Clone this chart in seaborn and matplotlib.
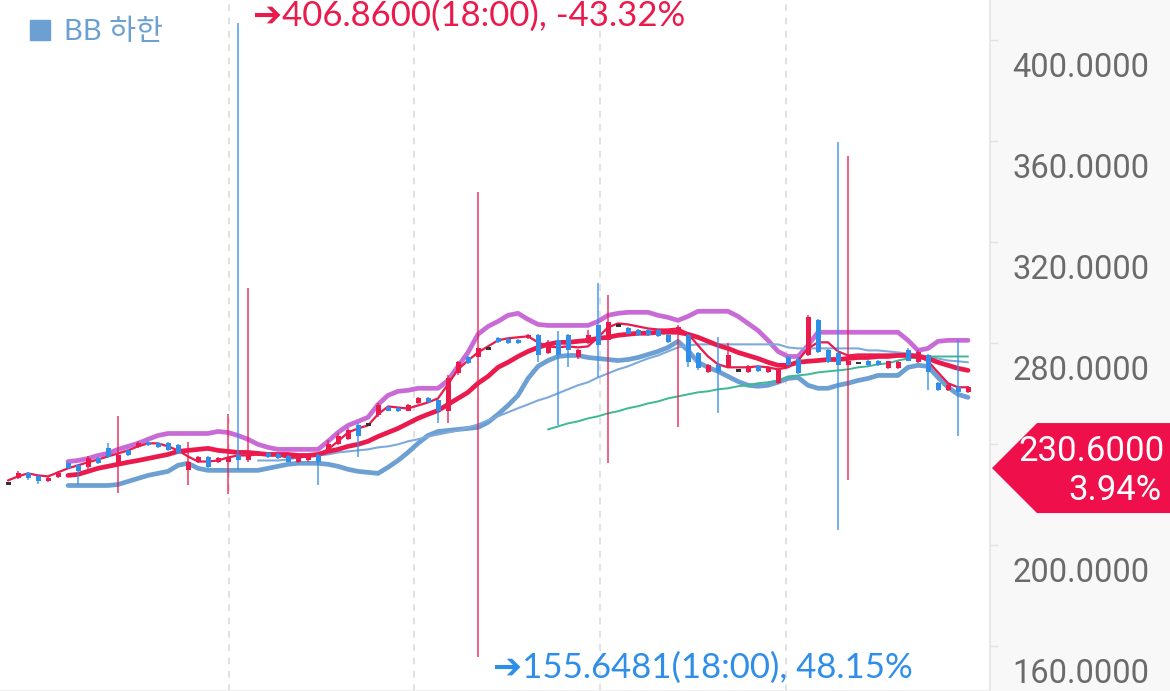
import numpy as np
import matplotlib
matplotlib.use("Agg")
import matplotlib.pyplot as plt
import matplotlib.transforms as mtransforms
from matplotlib.lines import Line2D
from matplotlib.patches import Polygon
import seaborn as sns

# ---- candles (one per step) ----
opens = [224.5, 226.5, 228.5, 227.3, 225.3, 226.9, 232.5, 231.7, 230.9, 234.4,
         238.4, 231.7, 237.6, 238.8, 240.8, 240.4, 240.4, 239.6, 229.7, 232.9,
         234.8, 232.9, 232.9, 235.6, 233.6, 235.6, 236.4, 236.0, 235.2, 232.9,
         233.6, 235.6, 236.8, 240.0, 242.0, 247.5, 247.9, 251.5, 254.6, 254.2,
         253.4, 256.2, 258.2, 257.4, 253.4, 268.1, 274.4, 274.4, 278.0, 282.0,
         281.6, 281.2, 282.0, 283.2, 276.0, 281.2, 283.2, 274.4, 280.0, 287.1,
         281.2, 287.1, 285.9, 285.1, 285.1, 285.1, 283.2, 283.9, 283.2, 276.0,
         268.5, 271.3, 270.5, 269.3, 268.5, 270.9, 268.5, 264.2, 274.4, 274.0,
         275.2, 289.1, 277.2, 276.0, 271.3, 272.1, 273.2, 273.2, 270.1, 270.1,
         277.2, 272.5, 275.2, 264.2, 261.4, 262.6, 260.8]
closes = [224.5, 228.5, 226.5, 225.3, 226.5, 228.5, 230.5, 229.3, 234.4, 232.5,
          234.8, 235.6, 235.6, 240.4, 239.6, 238.8, 237.6, 236.4, 232.9, 234.8,
          230.9, 234.4, 234.4, 233.6, 235.6, 236.8, 234.8, 234.4, 233.2, 234.4,
          235.2, 232.9, 240.0, 243.5, 245.5, 243.5, 247.9, 255.4, 253.4, 253.1,
          255.4, 258.2, 256.6, 253.4, 266.1, 272.5, 272.1, 278.0, 278.0, 280.4,
          280.0, 280.0, 283.2, 275.2, 280.4, 275.2, 277.2, 277.2, 283.2, 279.2,
          288.3, 287.1, 283.9, 283.2, 283.2, 282.8, 280.4, 286.3, 272.5, 270.1,
          271.3, 268.5, 275.2, 269.3, 270.9, 268.9, 270.5, 269.3, 271.3, 268.1,
          290.3, 276.4, 272.5, 271.3, 273.2, 272.1, 271.3, 271.3, 272.9, 272.5,
          273.2, 276.4, 268.5, 261.4, 263.4, 260.6, 262.6]
highs = [224.9, 229.3, 228.9, 227.7, 226.9, 229.3, 233.2, 232.1, 235.2, 234.8,
         240.4, 251.1, 238.0, 241.2, 241.2, 240.8, 240.8, 240.0, 240.8, 235.2,
         235.2, 234.8, 251.9, 406.86, 301.8, 237.2, 236.8, 236.4, 235.6, 234.8,
         235.6, 236.0, 241.6, 244.3, 246.3, 248.3, 248.3, 256.2, 255.0, 254.6,
         255.8, 258.6, 258.6, 257.8, 267.3, 273.2, 274.8, 339.8, 278.4, 282.4,
         282.0, 281.6, 283.6, 283.6, 281.2, 284.7, 283.6, 277.6, 285.1, 304.1,
         299.0, 287.5, 286.3, 285.5, 285.5, 285.5, 283.6, 287.1, 283.9, 276.4,
         271.7, 282.4, 280.0, 269.7, 271.3, 271.3, 270.9, 269.7, 274.8, 274.4,
         291.1, 289.5, 277.6, 359.6, 354.4, 272.5, 273.6, 273.6, 273.2, 272.9,
         278.0, 277.2, 275.6, 264.6, 263.8, 281.2, 263.0]
lows = [224.1, 226.1, 225.7, 224.1, 224.9, 226.5, 230.1, 223.7, 230.1, 232.1,
        234.4, 220.6, 235.2, 238.4, 239.2, 238.4, 237.2, 236.0, 223.7, 232.5,
        230.5, 232.5, 220.2, 229.7, 233.2, 235.2, 234.4, 234.0, 232.9, 232.5,
        233.2, 223.7, 236.4, 239.6, 241.6, 234.8, 247.5, 250.7, 253.1, 252.7,
        253.1, 255.8, 256.2, 248.3, 248.3, 267.3, 271.7, 155.6481, 277.6, 280.0,
        279.6, 279.6, 281.6, 272.5, 275.6, 247.5, 270.5, 274.0, 279.6, 266.5,
        232.8, 286.7, 283.6, 282.8, 282.8, 282.4, 280.0, 246.7, 270.5, 269.3,
        268.1, 252.6, 270.1, 268.9, 268.1, 268.5, 268.1, 263.8, 270.9, 267.7,
        274.8, 276.0, 272.1, 205.9, 225.7, 271.7, 270.9, 270.9, 269.7, 269.7,
        272.9, 272.1, 261.4, 261.0, 261.0, 243.5, 260.4]

# ---- indicator lines ----
ma_short = [225.7, 227.3, 228.5, 227.7, 227.3, 228.9, 230.5, 231.7, 232.9, 234.0,
            235.2, 236.4, 237.6, 239.2, 240.4, 240.4, 239.2, 237.6, 235.2, 233.2,
            233.2, 233.6, 234.8, 235.6, 235.6, 236.0, 236.4, 235.6, 234.8, 234.8,
            235.2, 236.0, 238.0, 241.2, 244.7, 246.3, 247.5, 251.9, 255.0, 254.6,
            254.2, 255.4, 256.6, 258.2, 263.8, 269.7, 273.2, 276.4, 278.8, 281.2,
            282.0, 282.4, 282.8, 280.4, 278.8, 278.4, 278.8, 278.4, 278.8, 282.4,
            286.3, 287.9, 287.5, 286.7, 285.9, 285.5, 285.5, 285.9, 283.9, 279.2,
            274.8, 271.7, 270.5, 270.5, 270.5, 270.9, 270.5, 269.7, 270.5, 273.2,
            278.0, 280.4, 280.4, 276.8, 275.2, 275.6, 275.6, 275.6, 275.6, 275.6,
            275.6, 275.2, 272.9, 268.5, 264.2, 262.6, 262.6]

bb_start = 6
bb_upper = [233.2, 233.6, 234.4, 235.6, 236.4, 238.0, 239.2, 240.4, 242.0, 243.5,
            244.3, 244.3, 244.3, 244.3, 244.3, 245.1, 244.7, 243.5, 242.0, 240.0,
            238.8, 238.0, 238.0, 238.0, 238.0, 238.0, 241.2, 244.7, 247.5, 249.1,
            250.7, 255.8, 259.4, 261.0, 261.4, 262.2, 262.2, 262.2, 265.3, 270.9,
            276.4, 283.6, 286.7, 288.7, 291.1, 291.9, 289.5, 287.5, 287.1, 287.1,
            287.1, 287.1, 287.1, 288.7, 291.1, 291.9, 292.3, 292.3, 292.3, 291.1,
            290.3, 289.1, 290.7, 292.7, 292.7, 292.7, 292.7, 290.7, 287.9, 285.1,
            281.2, 276.8, 274.8, 274.8, 279.2, 284.4, 284.4, 284.4, 284.4, 284.4,
            284.4, 284.4, 284.4, 284.4, 281.2, 277.2, 278.0, 280.8, 281.2, 281.2,
            281.2]
bb_middle = [227.7, 228.1, 229.3, 230.5, 231.3, 232.1, 232.9, 233.6, 234.4, 235.2,
             236.0, 237.2, 237.6, 238.0, 238.4, 237.6, 237.2, 236.8, 236.8, 236.4,
             236.0, 236.0, 236.0, 235.6, 235.6, 236.0, 237.2, 238.0, 239.2, 240.0,
             241.2, 243.1, 244.7, 246.3, 248.3, 250.3, 251.9, 253.4, 255.8, 258.2,
             260.6, 264.2, 266.9, 270.5, 272.5, 274.8, 276.8, 278.4, 279.6, 280.4,
             280.4, 280.8, 281.2, 282.0, 282.4, 283.2, 283.6, 284.0, 284.0, 284.4,
             284.4, 284.4, 283.6, 282.4, 280.8, 279.2, 278.0, 276.4, 275.2, 274.0,
             272.5, 271.3, 271.3, 272.5, 272.9, 273.2, 273.6, 273.6, 274.0, 274.4,
             274.4, 274.8, 274.8, 275.2, 275.2, 274.8, 274.0, 272.5, 271.3, 270.1,
             269.3]
bb_lower = [223.7, 223.7, 223.7, 223.7, 223.7, 224.1, 225.3, 226.5, 227.7, 228.5,
            229.3, 231.7, 232.5, 230.5, 229.7, 229.7, 229.7, 229.7, 229.7, 229.7,
            230.5, 231.3, 232.1, 232.5, 232.5, 232.5, 232.1, 231.3, 230.1, 229.3,
            228.9, 228.5, 230.9, 233.6, 236.8, 240.4, 243.5, 245.1, 245.5, 245.9,
            246.3, 246.7, 248.7, 251.9, 255.4, 259.4, 266.1, 270.9, 273.2, 274.8,
            275.2, 275.2, 274.4, 274.0, 273.6, 273.2, 273.6, 274.4, 275.6, 276.8,
            278.4, 280.8, 277.2, 272.5, 270.5, 268.9, 266.9, 264.9, 263.4, 263.0,
            263.4, 264.6, 266.1, 266.5, 263.4, 262.2, 262.2, 263.4, 264.2, 265.3,
            266.1, 267.3, 267.3, 267.3, 270.5, 271.3, 270.9, 266.5, 262.6, 259.8,
            258.6]

ma_mid_start = 25
ma_mid = [233.6, 233.6, 233.6, 234.0, 234.8, 235.2, 235.6, 236.0, 236.8, 237.2,
          237.6, 238.0, 238.8, 239.2, 240.0, 241.2, 242.0, 243.1, 243.9, 244.7,
          245.5, 246.7, 247.9, 249.5, 251.1, 252.7, 254.3, 255.8, 257.4, 258.6,
          260.2, 261.8, 263.4, 264.6, 266.5, 268.1, 269.7, 270.9, 272.5, 274.0,
          275.2, 276.8, 278.4, 279.2, 279.6, 279.6, 279.6, 279.6, 279.6, 279.6,
          279.6, 279.6, 279.6, 278.4, 278.0, 278.0, 278.0, 278.0, 278.0, 278.0,
          278.0, 277.2, 277.2, 276.8, 276.4, 276.0, 275.6, 274.8, 274.0, 273.2,
          272.9, 272.5]

ma_long_start = 54
ma_long = [245.9, 247.1, 248.3, 249.1, 250.3, 251.1, 252.3, 253.1, 254.3, 255.1,
           256.2, 257.0, 258.2, 259.0, 259.8, 260.6, 261.0, 261.8, 262.2, 263.0,
           263.4, 264.2, 264.6, 265.3, 266.9, 267.3, 267.7, 268.5, 268.9, 269.3,
           269.7, 270.5, 270.9, 271.7, 272.1, 273.2, 274.0, 274.4, 274.8, 274.8,
           274.8, 274.8, 274.8]

time_ticks = [22.1, 40.6, 59.2, 77.8]
price_ticks = [160, 200, 240, 280, 320, 360, 400]
last_price = 230.6
last_change = 3.94
extreme_time = "18:00"
legend_label = "BB 하한"

RED = "#ea1a4d"
BLUE = "#2f8eea"
PURPLE = "#c96bd6"
BB_BLUE = "#6c9fd2"
THIN_BLUE = "#7eaadb"
GREEN = "#3db893"
DARK = "#333333"

sns.set_theme(style="white")
plt.rcParams["font.family"] = ["Lato", "Noto Sans CJK KR", "DejaVu Sans"]

fig = plt.figure(figsize=(11.7, 6.91), dpi=100)
fig.patch.set_facecolor("#f8f8f8")
ax = fig.add_axes([0, 0, 990 / 1170, 1])
ax.set_facecolor("white")

# indicator lines
sns.lineplot(x=np.arange(bb_start, bb_start + len(bb_upper)), y=bb_upper,
             color=PURPLE, linewidth=3.4, ax=ax, zorder=2)
sns.lineplot(x=np.arange(bb_start, bb_start + len(bb_lower)), y=bb_lower,
             color=BB_BLUE, linewidth=3.4, ax=ax, zorder=2)
sns.lineplot(x=np.arange(ma_mid_start, ma_mid_start + len(ma_mid)), y=ma_mid,
             color=THIN_BLUE, linewidth=1.5, ax=ax, zorder=2)
sns.lineplot(x=np.arange(ma_long_start, ma_long_start + len(ma_long)), y=ma_long,
             color=GREEN, linewidth=1.4, ax=ax, zorder=2)
sns.lineplot(x=np.arange(bb_start, bb_start + len(bb_middle)), y=bb_middle,
             color=RED, linewidth=3.4, ax=ax, zorder=3)
sns.lineplot(x=np.arange(len(ma_short)), y=ma_short,
             color=RED, linewidth=1.6, ax=ax, zorder=3)

# candles
o = np.array(opens)
c = np.array(closes)
idx = np.arange(len(o))
cols = np.where(c > o, RED, np.where(c < o, BLUE, DARK))
ax.vlines(idx, lows, highs, colors=cols, linewidth=1.2, alpha=0.8, zorder=4)
flat = (c == o)
body = np.where(flat, 0.9, np.abs(c - o))
ax.bar(idx, body, bottom=np.minimum(o, c) - flat * 0.45, width=0.5,
       color=cols, linewidth=0, zorder=5)

ax.set_xlim(-0.8, 98.2)
ax.set_ylim(142.3, 416.0)
ax.set_xticks(time_ticks)
ax.tick_params(axis="x", length=0, labelbottom=False)
ax.grid(axis="x", color="#dcdcdc", linestyle=(0, (4, 4)), linewidth=1.2)
ax.grid(axis="y", visible=False)
ax.set_xlabel("")
ax.set_ylabel("")

# right price axis; the label under the current-price tag is covered in the original
ax.yaxis.tick_right()
ax.set_yticks(price_ticks)
ax.set_yticklabels(["" if abs(v - last_price) < 20 else f"{v:.4f}" for v in price_ticks])
ax.tick_params(axis="y", direction="out", length=6, width=1, color="#e2e2e2",
               pad=10, labelsize=23.5, labelcolor="#6b6b6b")
shift = mtransforms.ScaledTranslation(0, -0.24, fig.dpi_scale_trans)
for lab in ax.get_yticklabels():
    lab.set_transform(lab.get_transform() + shift)
    lab.set_fontfamily(["Roboto", "DejaVu Sans"])

for side in ["top", "left"]:
    ax.spines[side].set_visible(False)
ax.spines["right"].set_color("#e4e4e4")
ax.spines["right"].set_linewidth(1.2)
ax.spines["bottom"].set_color("#ececec")

# legend
handle = Line2D([], [], marker="s", linestyle="", color=BB_BLUE, markersize=14)
ax.legend([handle], [legend_label], loc="upper left", bbox_to_anchor=(0.009, 1.0),
          frameon=False, fontsize=21, handlelength=0.8, handletextpad=0.45,
          labelcolor=BB_BLUE, borderaxespad=0.25)

# max / min annotations
hi_i = int(np.argmax(highs))
lo_i = int(np.argmin(lows))
hi_pct = (last_price / highs[hi_i] - 1) * 100
lo_pct = (last_price / lows[lo_i] - 1) * 100
ax.annotate(f"➔{highs[hi_i]:.4f}({extreme_time}), {hi_pct:.2f}%",
            xy=(hi_i, highs[hi_i]), xytext=(11, 5), textcoords="offset points",
            ha="left", va="center", fontsize=25, color=RED,
            family=["Lato", "DejaVu Sans"], zorder=6)
ax.annotate(f"➔{lows[lo_i]:.4f}({extreme_time}), {lo_pct:.2f}%",
            xy=(lo_i, lows[lo_i]), xytext=(11, -7.5), textcoords="offset points",
            ha="left", va="center", fontsize=25, color=BLUE,
            family=["Lato", "DejaVu Sans"], zorder=6)

# current price tag on the right axis
ident = mtransforms.IdentityTransform()
y_tag = ax.transData.transform((0, last_price))[1]
x_ax = ax.bbox.x1
x_end = fig.bbox.x1
tag = Polygon([(x_ax + 2, y_tag), (x_ax + 47, y_tag + 45), (x_end, y_tag + 45),
               (x_end, y_tag - 45), (x_ax + 47, y_tag - 45)],
              closed=True, facecolor="#ef0f4a", edgecolor="none", transform=ident)
fig.add_artist(tag)
fig.text(x_end - 5, y_tag + 17, f"{last_price:.4f}", transform=ident, ha="right",
         va="center", fontsize=25, color="white", family=["Roboto", "DejaVu Sans"])
fig.text(x_end - 8, y_tag - 22, f"{last_change:.2f}%", transform=ident, ha="right",
         va="center", fontsize=25, color="white", family=["Roboto", "DejaVu Sans"])

fig.savefig("out.png", dpi=100, facecolor=fig.get_facecolor())
